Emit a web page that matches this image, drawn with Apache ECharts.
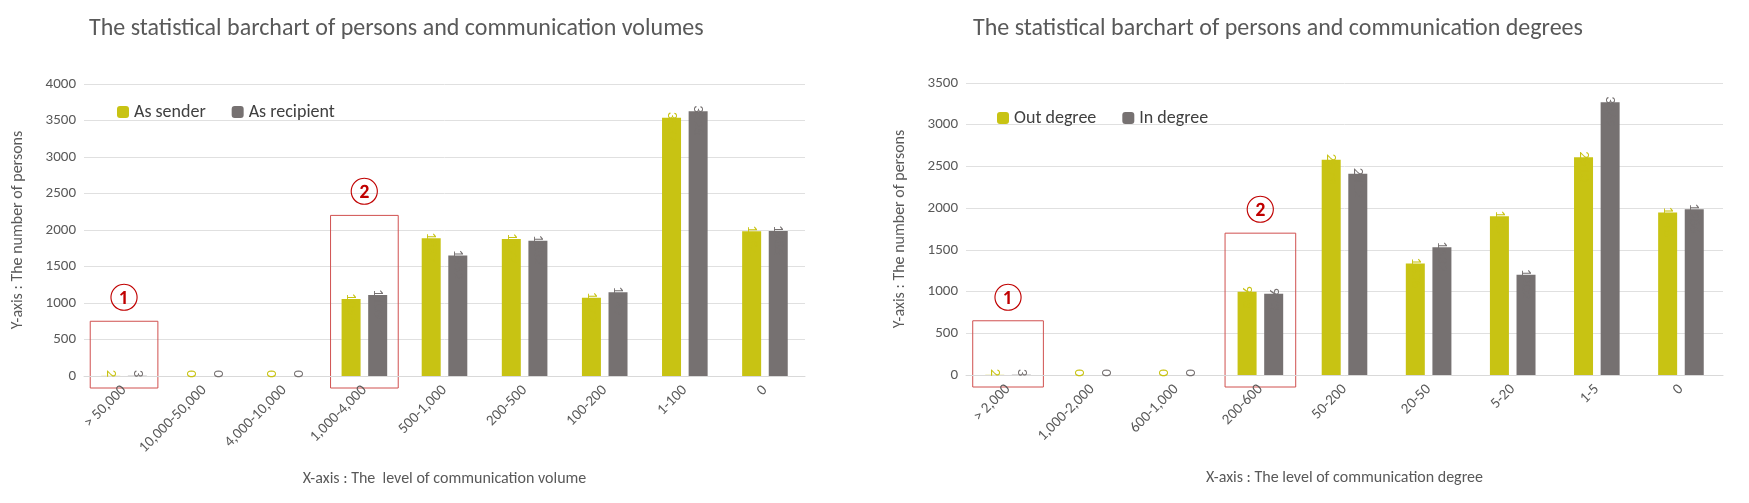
<!DOCTYPE html>
<html><head><meta charset="utf-8">
<script src="https://cdn.jsdelivr.net/npm/echarts@6/dist/echarts.min.js"></script>
<style>html,body{margin:0;padding:0;background:#fff}#c{width:1749px;height:503px}</style>
</head><body><div id="c"></div>
<script>
const volCats = ['> 50,000','10,000-50,000','4,000-10,000','1,000-4,000','500-1,000','200-500','100-200','1-100','0'];
const volSender = [2,0,0,1054,1887,1877,1072,3537,1984];
const volRecipient = [3,0,0,1109,1652,1852,1147,3628,1986];
const degCats = ['> 2,000','1,000-2,000','600-1,000','200-600','50-200','20-50','5-20','1-5','0'];
const degOut = [2,0,0,998,2579,1336,1904,2610,1948];
const degIn = [3,0,0,973,2412,1532,1202,3269,1986];

const Y='#c8c313', G='#767171', F='Calibri, Carlito, "Open Sans", "Noto Sans", sans-serif';
function bar(name, data, color, xi){
  return {name,type:'bar',xAxisIndex:xi,yAxisIndex:xi,data,barWidth:19,barGap:'40%',
    itemStyle:{color},
    label:{show:true,position:'top',rotate:-90,align:'left',verticalAlign:'middle',distance:6,overflow:'none',width:80,color,fontSize:15,fontFamily:F}};
}
function xa(cats,gi,name){return {type:'category',gridIndex:gi,data:cats,name,nameLocation:'middle',nameGap:95,
  nameTextStyle:{color:'#595959',fontSize:16,fontFamily:F},
  axisLine:{lineStyle:{color:'#d9d9d9'}},axisTick:{show:false},
  axisLabel:{rotate:45,color:'#595959',fontSize:15,fontFamily:F,interval:0,margin:12}};}
function ya(gi,max,name){return {type:'value',gridIndex:gi,min:0,max,interval:500,name,nameLocation:'middle',nameGap:58,
  nameTextStyle:{color:'#595959',fontSize:16,fontFamily:F},
  axisLabel:{color:'#595959',fontSize:15,fontFamily:F,formatter:v=>String(v)},
  splitLine:{lineStyle:{color:'#e0e0e0'}}};}
const chart = echarts.init(document.getElementById('c'));
chart.setOption({
  animation:false,
  title:[{text:'The statistical barchart of persons and communication volumes',left:84,top:12,textStyle:{color:'#595959',fontSize:24,fontWeight:'normal',fontFamily:F}},
         {text:'The statistical barchart of persons and communication degrees',left:968,top:12,textStyle:{color:'#595959',fontSize:24,fontWeight:'normal',fontFamily:F}}],
  legend:[{data:['As sender','As recipient'],left:112,top:98,itemWidth:12,itemHeight:12,itemGap:26,textStyle:{color:'#404040',fontSize:18,fontFamily:F}},
          {data:['Out degree','In degree'],left:992,top:104,itemWidth:12,itemHeight:12,itemGap:26,textStyle:{color:'#404040',fontSize:18,fontFamily:F}}],
  grid:[{left:84,right:944,top:84,bottom:127},{left:966,right:26,top:83,bottom:128}],
  xAxis:[xa(volCats,0,'X-axis : The  level of communication volume'),xa(degCats,1,'X-axis : The level of communication degree')],
  yAxis:[ya(0,4000,'Y-axis : The number of persons'),ya(1,3500,'Y-axis : The number of persons')],
  series:[bar('As sender',volSender,Y,0),bar('As recipient',volRecipient,G,0),bar('Out degree',degOut,Y,1),bar('In degree',degIn,G,1)]
});
// annotation boxes: category index, top value, label
const boxes=[[0,0,750,'①'],[0,3,2200,'②'],[1,0,650,'①'],[1,3,1700,'②']];
const gr=[];
boxes.forEach(([gi,ci,top,lab])=>{
  const a=chart.convertToPixel({gridIndex:gi},[ci,top]);
  const b=chart.convertToPixel({gridIndex:gi},[ci,0]);
  const bw=(gi===0?725:757)/9;
  const x0=a[0]-bw*0.42, w=bw*0.84, y0=a[1], y1=b[1]+12;
  gr.push({type:'rect',silent:true,shape:{x:x0,y:y0,width:w,height:y1-y0},style:{fill:'none',stroke:'#d0504f',lineWidth:1}});
  gr.push({type:'text',silent:true,x:a[0],y:y0-8,style:{text:lab,fill:'#c00000',font:'28px '+F,align:'center',verticalAlign:'bottom'}});
});
chart.setOption({graphic:gr});
</script></body></html>
